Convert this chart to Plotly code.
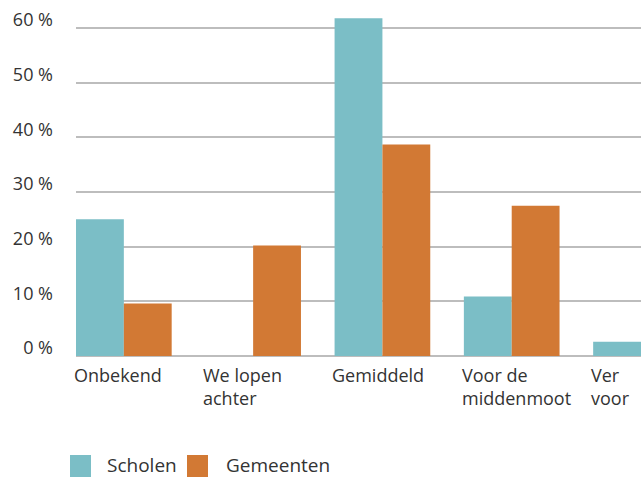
import plotly.graph_objects as go

categories = ["Onbekend", "We lopen<br>achter", "Gemiddeld", "Voor de<br>middenmoot", "Ver<br>voor"]
scholen = [25.0, 0.0, 61.8, 10.9, 2.6]
gemeenten = [9.6, 20.2, 38.7, 27.5, 0.0]
y_ticks = [0, 10, 20, 30, 40, 50, 60]
y_tick_labels = ["0 %", "10 %", "20 %", "30 %", "40 %", "50 %", "60 %"]
series_names = ["Scholen", "Gemeenten"]

TEAL = "#7bbec6"
ORANGE = "#d27934"
FONT = "Open Sans"
TEXT = "#333333"

fig = go.Figure()
fig.add_trace(go.Bar(x=categories, y=scholen, name=series_names[0], marker_color=TEAL,
                     marker_line_width=0))
fig.add_trace(go.Bar(x=categories, y=gemeenten, name=series_names[1], marker_color=ORANGE,
                     marker_line_width=0))

# left-aligned category labels
for cat in categories:
    fig.add_annotation(x=cat, y=0, xref="x", yref="y", text=cat, showarrow=False,
                       xanchor="left", yanchor="top", align="left", xshift=-52, yshift=-5,
                       font=dict(family=FONT, size=18, color=TEXT))

# legend drawn by hand so the swatches can be large squares
W, H = 565.0, 346.0
def px(x):
    return (x - 76) / W
def py(y):
    return (356 - y) / H

legend_items = [(series_names[0], TEAL, 70, 105), (series_names[1], ORANGE, 187, 224)]
for name, col, sx, tx in legend_items:
    fig.add_shape(type="rect", xref="paper", yref="paper",
                  x0=px(sx), x1=px(sx + 21), y0=py(478), y1=py(455),
                  fillcolor=col, line_width=0)
    fig.add_annotation(x=px(tx), y=py(465), xref="paper", yref="paper", text=name,
                       showarrow=False, xanchor="left", yanchor="middle",
                       font=dict(family=FONT, size=19, color=TEXT))

fig.update_layout(
    width=641, height=477,
    margin=dict(l=76, r=0, t=10, b=121, autoexpand=False),
    plot_bgcolor="white", paper_bgcolor="white",
    barmode="group", bargap=0.26, bargroupgap=0,
    showlegend=False, hovermode=False,
    font=dict(family=FONT, size=18, color=TEXT),
    xaxis=dict(showticklabels=False, showgrid=False, zeroline=False,
               range=[-0.37, 4.0], fixedrange=True, automargin=False),
    yaxis=dict(range=[0, 63.3], tickvals=y_ticks, ticktext=y_tick_labels,
               showgrid=True, gridcolor="#bdbdbd", gridwidth=1.5,
               zeroline=True, zerolinecolor="#bdbdbd", zerolinewidth=1.5,
               ticklabelstandoff=22, ticklabelshift=-8, automargin=False,
               fixedrange=True, tickfont=dict(family=FONT, size=18, color=TEXT)),
)

fig.write_html("out.html", config={"displayModeBar": False},
               post_script="document.body.style.margin='0';")
